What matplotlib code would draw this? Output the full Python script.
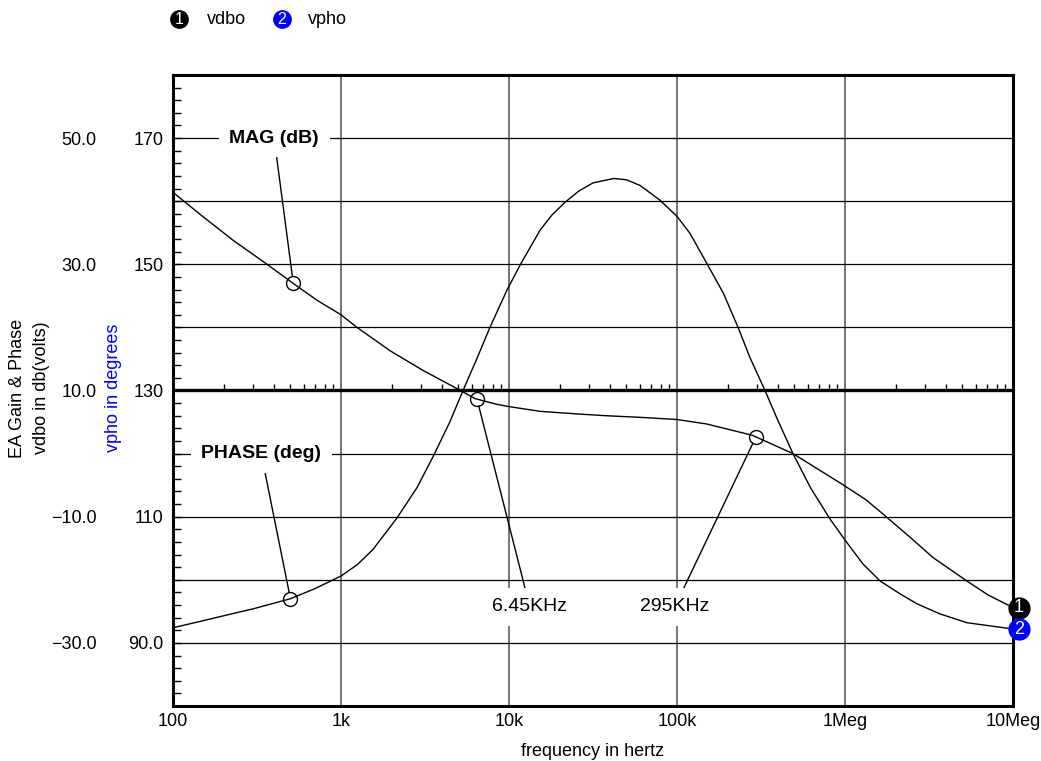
import numpy as np
import matplotlib
matplotlib.use("Agg")
import matplotlib.pyplot as plt
from matplotlib.ticker import FixedLocator, FixedFormatter, MultipleLocator, NullLocator
from matplotlib.transforms import ScaledTranslation

plt.rcParams['font.family'] = ['Liberation Sans', 'DejaVu Sans']

# vdbo - error amp gain in dB
mag_freq = [100, 150, 228, 350, 518, 720, 1000, 1245, 1960, 3070, 4900, 6300, 8500,
            9720, 15300, 25000, 38000, 60200, 100000, 150000, 281000, 490000,
            955000, 1.33e6, 1.67e6, 2.45e6, 3.35e6, 5.32e6, 7.1e6, 1.0e7]
mag_db = [41.4, 37.6, 33.8, 30.3, 27.0, 24.3, 22.0, 20.0, 16.3, 13.2, 10.3, 8.7, 7.8,
          7.5, 6.7, 6.3, 6.0, 5.75, 5.4, 4.7, 2.9, 0.0,
          -4.8, -7.3, -9.5, -13.3, -16.5, -20.2, -22.4, -24.4]

# vpho - error amp phase in degrees
phase_freq = [100, 150, 240, 300, 500, 700, 1000, 1250, 1549, 2154, 2832, 3530, 4441, 5325,
              6427, 7700, 9720, 11600, 15300, 18000, 21500, 26000, 31600, 42000, 50000,
              60200, 78900, 100000, 119500, 153000, 189000, 231000, 272000, 334000,
              392000, 490000, 623000, 816000, 1.0e6, 1.28e6, 1.62e6, 2.12e6, 2.68e6,
              3.67e6, 5.32e6, 1.0e7]
phase_deg = [92.4, 93.5, 94.8, 95.4, 97.0, 98.6, 100.6, 102.4, 104.8, 109.8, 114.6, 119.5, 125.0, 130.0,
             135.0, 140.0, 145.9, 149.8, 155.4, 157.8, 159.8, 161.6, 162.9, 163.6, 163.4,
             162.5, 160.2, 157.6, 154.9, 149.8, 145.4, 140.0, 135.2, 130.0,
             125.7, 120.0, 114.6, 109.6, 106.3, 102.5, 99.8, 97.8, 96.2,
             94.6, 93.2, 92.2]

freq_ticks = [1e2, 1e3, 1e4, 1e5, 1e6, 1e7]
freq_labels = ['100', '1k', '10k', '100k', '1Meg', '10Meg']
deg_grid = [90, 100, 110, 120, 130, 140, 150, 160, 170]
deg_labels = ['90.0', '', '110', '', '130', '', '150', '', '170']
db_ticks = [-30, -10, 10, 30, 50]
db_labels = ['\u221230.0', '\u221210.0', '10.0', '30.0', '50.0']

# callout frequencies
mag_note_freq = 520
phase_note_freq = 500
cross_low = 6.45e3
cross_high = 295e3


def on_curve(f, freqs, vals):
    return np.interp(np.log10(f), np.log10(freqs), vals)


fig = plt.figure(figsize=(10.41, 7.61), dpi=100)
ax = fig.add_axes([173 / 1041, 1 - 706 / 761, 840 / 1041, 631 / 761])
ax2 = ax.twinx()

# phase axis (inner labels)
ax.set_xscale('log')
ax.set_xlim(1e2, 1e7)
ax.set_ylim(80, 180)
ax.xaxis.set_major_locator(FixedLocator(freq_ticks))
ax.xaxis.set_major_formatter(FixedFormatter(freq_labels))
ax.xaxis.set_minor_locator(NullLocator())
ax.tick_params(axis='x', which='both', length=0, pad=5, labelsize=13)
ax.yaxis.set_major_locator(FixedLocator(deg_grid))
ax.yaxis.set_major_formatter(FixedFormatter(deg_labels))
ax.yaxis.set_minor_locator(MultipleLocator(2))
ax.tick_params(axis='y', which='both', direction='in', length=6, width=1,
               pad=7, labelsize=13)
ax.grid(axis='x', which='major', color='#6a6a6a', lw=1.3)
ax.grid(axis='y', which='major', color='black', lw=0.9)
for s in ax.spines.values():
    s.set_linewidth(2.2)

# heavy reference line at 130 deg with decade sub-ticks
ax.axhline(130, color='black', lw=2.4, zorder=2)
sub_ticks = [m * 10 ** d for d in range(2, 7) for m in range(2, 10)]
ax.vlines(sub_ticks, 130, 131, color='black', lw=1, zorder=2)

ax.plot(phase_freq, phase_deg, color='black', lw=1, zorder=3)

# gain axis (outer labels, also on the left)
ax2.set_ylim(-40, 60)
ax2.yaxis.tick_left()
ax2.yaxis.set_major_locator(FixedLocator(db_ticks))
ax2.yaxis.set_major_formatter(FixedFormatter(db_labels))
ax2.yaxis.set_minor_locator(NullLocator())
ax2.tick_params(axis='y', length=0, pad=55, labelsize=13)
for s in ax2.spines.values():
    s.set_visible(False)

ax2.plot(mag_freq, mag_db, color='black', lw=1, zorder=3)


def callout(text, f, freqs, vals, xytext, trans, weight, gap):
    xy = (f, on_curve(f, freqs, vals))
    ax2.annotate(text, xy=xy, xycoords=trans, xytext=xytext, textcoords=trans,
                 ha='center', va='center', fontsize=14, fontweight=weight,
                 bbox=dict(boxstyle='square,pad=0.55', fc='white', ec='none'),
                 arrowprops=dict(arrowstyle='-', color='black', lw=1,
                                 patchA=None, shrinkA=gap, shrinkB=5),
                 zorder=4)
    ax2.plot(xy[0], xy[1], 'o', ms=10, mfc='none', mec='black', mew=1,
             transform=trans, zorder=5)


callout('MAG (dB)', mag_note_freq, mag_freq, mag_db, (400, 50), ax2.transData, 'bold', 11)
callout('PHASE (deg)', phase_note_freq, phase_freq, phase_deg, (335, 120), ax.transData, 'bold', 14)
callout('6.45KHz', cross_low, mag_freq, mag_db, (13300, -24.3), ax2.transData, 'normal', 11)
callout('295KHz', cross_high, mag_freq, mag_db, (97000, -24.3), ax2.transData, 'normal', 12)

# numbered trace markers at the end of each curve
shift = ScaledTranslation(6 / 100, 0, fig.dpi_scale_trans)
for num, vals, tgt, col in [('1', mag_db, ax2, 'black'), ('2', phase_deg, ax, 'blue')]:
    tr = tgt.transData + shift
    ax2.plot(1e7, vals[-1], 'o', ms=15, color=col, transform=tr, clip_on=False, zorder=6)
    ax2.text(1e7, vals[-1], num, color='white', fontsize=13, ha='center', va='center',
             transform=tr, clip_on=False, zorder=7)

# legend row at the top
for cx, tx, num, name, col in [(179, 207, '1', 'vdbo', 'black'), (282, 308, '2', 'vpho', 'blue')]:
    ax2.plot(cx / 1041, 1 - 19 / 761, 'o', ms=12.5, color=col, transform=fig.transFigure,
             clip_on=False)
    fig.text(cx / 1041, 1 - 19 / 761, num, color='white', fontsize=11.5, ha='center', va='center')
    fig.text(tx / 1041, 1 - 19 / 761, name, fontsize=13, ha='left', va='center')

# axis titles
fig.text(18 / 1041, 1 - 388 / 761, 'EA Gain & Phase', rotation=90, fontsize=13,
         ha='center', va='center')
fig.text(42 / 1041, 1 - 388 / 761, 'vdbo in db(volts)', rotation=90, fontsize=13,
         ha='center', va='center')
fig.text(113 / 1041, 1 - 388 / 761, 'vpho in degrees', rotation=90, fontsize=13,
         ha='center', va='center', color='blue')
fig.text(593 / 1041, 1 - 751 / 761, 'frequency in hertz', fontsize=13,
         ha='center', va='center')

fig.savefig('out.png', dpi=100)
